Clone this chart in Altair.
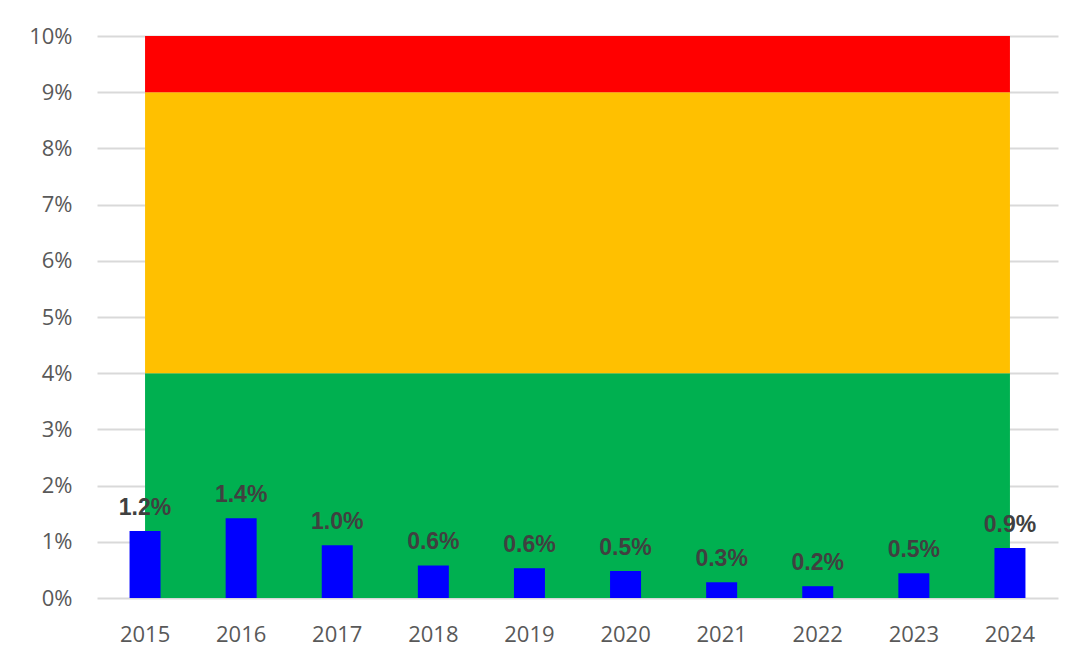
import altair as alt
import pandas as pd

years = ["2015", "2016", "2017", "2018", "2019", "2020", "2021", "2022", "2023", "2024"]
values = [1.19, 1.42, 0.94, 0.58, 0.53, 0.48, 0.28, 0.21, 0.44, 0.89]  # percent
labels = ["1.2%", "1.4%", "1.0%", "0.6%", "0.6%", "0.5%", "0.3%", "0.2%", "0.5%", "0.9%"]

band_names = ["green", "orange", "red"]
band_lo = [0, 4, 9]
band_hi = [4, 9, 10]
band_colors = ["#00B050", "#FFC000", "#FF0000"]

y_ticks = [i / 100 for i in range(0, 11)]

bars = pd.DataFrame({
    "year": years,
    "value": [v / 100 for v in values],
    "label": labels,
})

rows = []
for name, lo, hi in zip(band_names, band_lo, band_hi):
    for y in years:
        rows.append({"year": y, "band": name, "lo": lo / 100, "hi": hi / 100})
bands = pd.DataFrame(rows)

x_enc = alt.X(
    "year:N",
    sort=years,
    scale=alt.Scale(paddingInner=0, paddingOuter=0),
    axis=alt.Axis(
        title=None, labelAngle=0, ticks=False, domain=False, grid=False,
        labelFont="Open Sans", labelFontSize=22, labelColor="#595959",
        labelPadding=26,
    ),
)
y_scale = alt.Scale(domain=[0, 0.1], nice=False)

area = alt.Chart(bands).mark_area(opacity=1).encode(
    x=x_enc,
    y=alt.Y(
        "lo:Q",
        scale=y_scale,
        axis=alt.Axis(
            title=None, values=y_ticks, format=".0%", ticks=False, domain=False,
            labelFont="Open Sans", labelFontSize=22, labelColor="#595959",
            labelPadding=25, gridColor="#d9d9d9", gridWidth=2,
        ),
    ),
    y2="hi:Q",
    color=alt.Color(
        "band:N",
        scale=alt.Scale(domain=band_names, range=band_colors),
        legend=None,
    ),
)

bar = alt.Chart(bars).mark_bar(color="#0000FF", size=31).encode(
    x=alt.X("year:N", sort=years),
    y=alt.Y("value:Q", scale=y_scale),
)

text = alt.Chart(bars).mark_text(
    font="Liberation Sans", fontWeight="bold", fontSize=23, color="#404040",
    baseline="alphabetic", dy=-16,
).encode(
    x=alt.X("year:N", sort=years),
    y=alt.Y("value:Q", scale=y_scale),
    text="label:N",
)

chart = alt.layer(area, bar, text).properties(
    width=961,
    height=562,
    autosize=alt.AutoSizeParams(type="none"),
    padding={"left": 89, "top": 28, "right": 16, "bottom": 56},
    background="white",
).configure_view(stroke=None)

chart.save("out.html", embed_options={"renderer": "svg", "actions": False})
